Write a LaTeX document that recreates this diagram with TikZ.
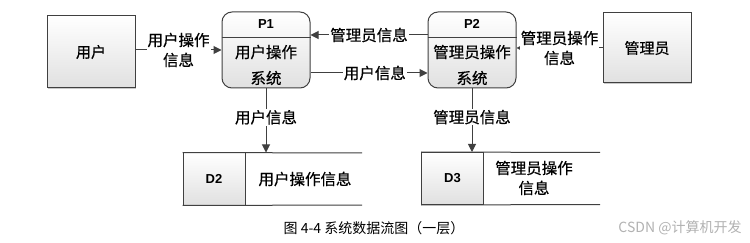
\documentclass[tikz,border=0pt]{standalone}
\usepackage{fontspec}
\setmainfont{Liberation Sans}
\newfontfamily\cjk{Noto Sans CJK SC}
\newfontfamily\cjkb[FakeBold=0.6]{Noto Sans CJK SC}
\usetikzlibrary{arrows.meta,shadows}
\begin{document}
\begin{tikzpicture}[x=1pt,y=-1pt,
  boxline/.style={draw=black!75, line width=1pt},
  shade/.style={top color=white, bottom color=black!12},
  ext/.style={boxline, shade, minimum width=88pt, minimum height=72pt, inner sep=0pt,
    font=\cjkb\fontsize{15}{18}\selectfont,
    drop shadow={shadow xshift=1.2pt, shadow yshift=-1.2pt, fill=black!35, opacity=0.6}},
  proc/.style={boxline, shade, rounded corners=10pt, minimum width=88pt, minimum height=76pt, inner sep=0pt},
  ptitle/.style={font=\bfseries\fontsize{13}{15}\selectfont},
  pbody/.style={font=\cjkb\fontsize{15.5}{26}\selectfont, align=center},
  store/.style={boxline, shade, minimum width=62pt, minimum height=52pt, inner sep=0pt, font=\bfseries\fontsize{13}{15}\selectfont},
  lbl/.style={font=\cjkb\fontsize{15.5}{20}\selectfont, align=center, fill=white, inner sep=1pt},
  arr/.style={draw=black!75, line width=1pt, -{Triangle[length=8pt,width=8pt]}},
  captext/.style={font=\cjk\fontsize{14}{16}\selectfont}
]
\useasboundingbox (0,0) rectangle (750,243);
\fill[white] (0,0) rectangle (750,243);

% external entities
\node[ext] (user) at (91,52) {用户};
\node[ext, minimum height=70pt] (mgr) at (647,48) {管理员};

% processes
\node[proc] (p1) at (266,50) {};
\draw[boxline] ([yshift=-26pt]p1.north west) -- ([yshift=-26pt]p1.north east);
\node[ptitle] (p1t) at (266,24) {P1};
\node[pbody] (p1b) at (266,65) {用户操作\\系统};

\node[proc] (p2) at (472,50) {};
\draw[boxline] ([yshift=-26pt]p2.north west) -- ([yshift=-26pt]p2.north east);
\node[ptitle] (p2t) at (472,24) {P2};
\node[pbody] (p2b) at (472,65) {管理员操作\\系统};

% data stores
\node[store] (d2) at (214,179) {D2};
\draw[boxline] (d2.north west) -- (362,153);
\draw[boxline] (d2.south west) -- (362,205);
\node[lbl, fill=none] (d2t) at (305,179) {用户操作信息};

\node[store] (d3) at (452.5,178.5) {D3};
\draw[boxline] (d3.north west) -- (600,152.5);
\draw[boxline] (d3.south west) -- (600,204.5);
\node[lbl, fill=none] (d3t) at (534,178) {管理员操作\\信息};

% flows
\draw[arr] (user.east |- 0,50) -- (p1.west |- 0,50)
  node[lbl, midway] {用户操作\\信息};
\draw[arr] (p2.west |- 0,35) -- (p1.east |- 0,35)
  node[lbl, midway] {管理员信息};
\draw[arr] (p1.east |- 0,73) -- (p2.west |- 0,73)
  node[lbl, pos=0.55] {用户信息};
\draw[arr] (mgr.west |- 0,48) -- (p2.east |- 0,48)
  node[lbl, midway] {管理员操作\\信息};
\draw[arr] (p1.south) -- (p1.south |- d2.north)
  node[lbl, pos=0.45] {用户信息};
\draw[arr] (p2.south) -- (p2.south |- d3.north)
  node[lbl, pos=0.45] {管理员信息};

% caption
\node[captext] (caption) at (374,228) {图 4-4 系统数据流图（一层）};
\node[captext, text=black!30] (wm) at (680,228) {CSDN @计算机开发};
\end{tikzpicture}
\end{document}
